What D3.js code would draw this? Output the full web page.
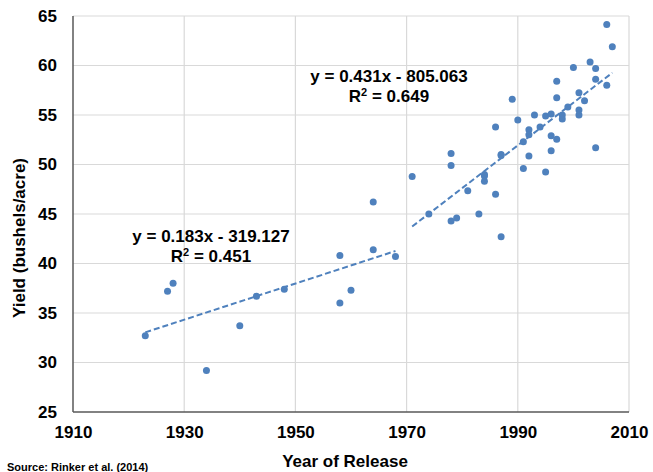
<!DOCTYPE html>
<html>
<head>
<meta charset="utf-8">
<script src="https://cdn.jsdelivr.net/npm/d3@7"></script>
<style>
  body { margin: 0; background: #fff; }
  text { font-family: "Liberation Sans", Arial, sans-serif; font-weight: bold; }
</style>
</head>
<body>
<div id="chart"></div>
<script>
// data: year of release and yield
let earlyYears = [1923, 1927, 1928, 1934, 1940, 1943, 1948, 1958, 1958, 1960, 1964, 1964, 1968];
let earlyYield = [32.7, 37.2, 38.0, 29.2, 33.7, 36.7, 37.4, 40.8, 36.0, 37.3, 46.2, 41.4, 40.7];

let lateYears = [1971, 1974, 1978, 1978, 1978, 1979, 1981, 1983, 1984, 1984, 1984, 1986, 1986,
  1987, 1987, 1987, 1989, 1990, 1991, 1991, 1992, 1992, 1992, 1993, 1994, 1995, 1995,
  1996, 1996, 1996, 1997, 1997, 1997, 1998, 1998, 1999, 2000, 2001, 2001, 2001, 2002,
  2003, 2004, 2004, 2004, 2006, 2006, 2007];
let lateYield = [48.8, 45.0, 51.1, 49.9, 44.3, 44.6, 47.35, 45.0, 49.0, 48.85, 48.3, 53.8, 47.0,
  51.0, 50.9, 42.7, 56.6, 54.5, 52.3, 49.6, 53.5, 53.0, 50.85, 55.0, 53.8, 54.9, 49.25,
  55.1, 52.9, 51.4, 58.4, 56.75, 52.55, 55.0, 54.6, 55.8, 59.8, 57.25, 55.5, 55.0, 56.45,
  60.35, 59.7, 58.6, 51.7, 64.15, 58.0, 61.9];

let xTicks = [1910, 1930, 1950, 1970, 1990, 2010];
let yTicks = [25, 30, 35, 40, 45, 50, 55, 60, 65];

let earlyLabel = ["y = 0.183x - 319.127", "0.451"];
let lateLabel = ["y = 0.431x - 805.063", "0.649"];

let svgWidth = 653;
let svgHeight = 472;

let margin = { top: 16, right: 24, bottom: 60, left: 73 };
let width = svgWidth - margin.left - margin.right;
let height = svgHeight - margin.top - margin.bottom;

let blue = "#4f81bd";

let svg = d3.select("#chart")
  .append("svg")
  .attr("width", svgWidth)
  .attr("height", svgHeight);

let chartGroup = svg.append("g")
  .attr("transform", `translate(${margin.left}, ${margin.top})`);

let x = d3.scaleLinear().domain([1910, 2010]).range([0, width]);
let y = d3.scaleLinear().domain([25, 65]).range([height, 0]);

// gridlines
chartGroup.append("g")
  .selectAll("line")
  .data(yTicks.slice(1))
  .enter()
  .append("line")
  .attr("x1", 0)
  .attr("x2", width)
  .attr("y1", d => y(d))
  .attr("y2", d => y(d))
  .attr("stroke", "#d9d9d9")
  .attr("stroke-width", 1.2);

chartGroup.append("g")
  .selectAll("line")
  .data(xTicks.slice(1))
  .enter()
  .append("line")
  .attr("x1", d => x(d))
  .attr("x2", d => x(d))
  .attr("y1", 0)
  .attr("y2", height)
  .attr("stroke", "#d9d9d9")
  .attr("stroke-width", 1.2);

// axes, tick labels only
let leftAxis = d3.axisLeft(y).tickValues(yTicks).tickSize(0).tickPadding(16);
let bottomAxis = d3.axisBottom(x).tickValues(xTicks).tickFormat(d3.format("d")).tickSize(0).tickPadding(14);

let yAxis = chartGroup.append("g").call(leftAxis);
let xAxis = chartGroup.append("g")
  .attr("transform", `translate(0, ${height})`)
  .call(bottomAxis);

[xAxis, yAxis].forEach(function(ax) {
  ax.select(".domain").remove();
  ax.selectAll("text")
    .attr("font-size", "17px")
    .attr("font-family", "'Liberation Sans', Arial, sans-serif")
    .attr("font-weight", "bold")
    .attr("fill", "#000");
});

chartGroup.append("line")
  .attr("x1", 0).attr("x2", 0)
  .attr("y1", 0).attr("y2", height)
  .attr("stroke", "#595959")
  .attr("stroke-width", 1.5);

chartGroup.append("line")
  .attr("x1", 0).attr("x2", width)
  .attr("y1", height).attr("y2", height)
  .attr("stroke", "#595959")
  .attr("stroke-width", 1.5);

// least squares fit, drawn over the range of each group
function fitLine(xs, ys) {
  let mx = d3.mean(xs);
  let my = d3.mean(ys);
  let sxy = d3.sum(xs, (v, i) => (v - mx) * (ys[i] - my));
  let sxx = d3.sum(xs, v => (v - mx) * (v - mx));
  let slope = sxy / sxx;
  let icpt = my - slope * mx;
  let x0 = d3.min(xs);
  let x1 = d3.max(xs);
  return [[x0, slope * x0 + icpt], [x1, slope * x1 + icpt]];
}

let line = d3.line().x(d => x(d[0])).y(d => y(d[1]));

[[earlyYears, earlyYield], [lateYears, lateYield]].forEach(function(g) {
  chartGroup.append("path")
    .attr("d", line(fitLine(g[0], g[1])))
    .attr("fill", "none")
    .attr("stroke", blue)
    .attr("stroke-width", 2)
    .attr("stroke-dasharray", "6,3");
});

// points
let allYears = earlyYears.concat(lateYears);
let allYield = earlyYield.concat(lateYield);

chartGroup.selectAll("circle")
  .data(allYears)
  .enter()
  .append("circle")
  .attr("cx", d => x(d))
  .attr("cy", (d, i) => y(allYield[i]))
  .attr("r", 3.5)
  .attr("fill", blue);

// equation labels
function addLabel(lbl, cx, cy) {
  svg.append("text")
    .attr("x", cx)
    .attr("y", cy)
    .attr("text-anchor", "middle")
    .attr("font-size", "17px")
    .text(lbl[0]);

  let r = svg.append("text")
    .attr("x", cx)
    .attr("y", cy + 20)
    .attr("text-anchor", "middle")
    .attr("font-size", "17px");
  r.append("tspan").text("R");
  r.append("tspan").attr("font-size", "11px").attr("dy", "-6").text("2");
  r.append("tspan").attr("dy", "6").text(" = " + lbl[1]);
}

addLabel(earlyLabel, 211, 242);
addLabel(lateLabel, 389, 82);

// axis titles
svg.append("text")
  .attr("x", 345)
  .attr("y", 467)
  .attr("text-anchor", "middle")
  .attr("font-size", "17px")
  .text("Year of Release");

svg.append("text")
  .attr("transform", "translate(25, 238) rotate(-90)")
  .attr("text-anchor", "middle")
  .attr("font-size", "17px")
  .text("Yield (bushels/acre)");

svg.append("text")
  .attr("x", 7)
  .attr("y", 471)
  .attr("font-size", "11px")
  .text("Source: Rinker et al. (2014)");
</script>
</body>
</html>
